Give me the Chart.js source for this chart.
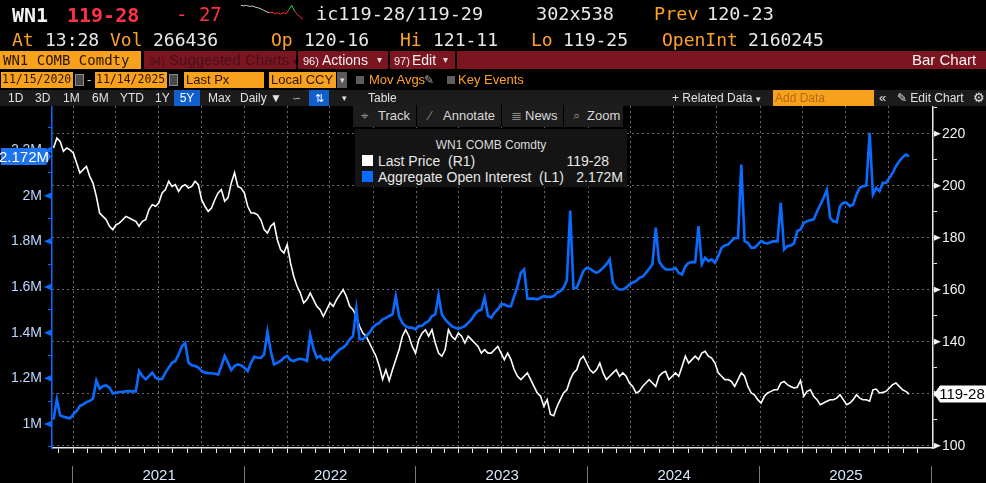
<!DOCTYPE html>
<html>
<head>
<meta charset="utf-8">
<script src="https://cdn.jsdelivr.net/npm/chart.js@4.4.1/dist/chart.umd.min.js"></script>
<style>
  html, body { margin: 0; padding: 0; background: #000; }
  body { width: 986px; height: 483px; position: relative; overflow: hidden;
         font-family: "Liberation Sans", Arial, sans-serif; color: #e6e6e6; }
  .abs { position: absolute; white-space: nowrap; }
  .mono { font-family: "DejaVu Sans Mono", "Liberation Mono", monospace; line-height: 1; }
  .org { color: #ffa128; }
  .wht { color: #e8e8e8; }
  .red { color: #ff3347; }
  .bar { position: absolute; left: 0; width: 986px; }
  .bar .abs { top: 0; }
  .obox { position: absolute; background: #f8a11c; color: #2a1600; }
  #chart { position: absolute; left: 0; top: 0; }
</style>
</head>
<body>

<canvas id="chart" width="986" height="483"></canvas>

<!-- quote header -->
<div class="abs mono" style="left:12px;top:5px;font-size:20px;font-weight:bold;color:#f2f2f2">WN1</div>
<div class="abs mono red" style="left:67px;top:5px;font-size:20px;font-weight:bold">119-28</div>
<div class="abs mono red" style="left:176px;top:5px;font-size:19px">-&nbsp;27</div>
<canvas id="spark" class="abs" width="64" height="26" style="left:240px;top:1px"></canvas>
<div class="abs mono wht" style="left:316px;top:5px;font-size:18.5px">ic119-28/119-29</div>
<div class="abs mono wht" style="left:536px;top:5px;font-size:18.5px">302x538</div>
<div class="abs mono org" style="left:654px;top:5px;font-size:18.5px">Prev</div>
<div class="abs mono wht" style="left:707px;top:5px;font-size:18.5px">120-23</div>

<div class="abs mono org" style="left:12px;top:31px;font-size:18px">At</div>
<div class="abs mono wht" style="left:45px;top:31px;font-size:18px">13:28</div>
<div class="abs mono org" style="left:110px;top:31px;font-size:18px">Vol</div>
<div class="abs mono wht" style="left:153px;top:31px;font-size:18px">266436</div>
<div class="abs mono org" style="left:271px;top:31px;font-size:18px">Op</div>
<div class="abs mono wht" style="left:304px;top:31px;font-size:18px">120-16</div>
<div class="abs mono org" style="left:400px;top:31px;font-size:18px">Hi</div>
<div class="abs mono wht" style="left:433px;top:31px;font-size:18px">121-11</div>
<div class="abs mono org" style="left:531px;top:31px;font-size:18px">Lo</div>
<div class="abs mono wht" style="left:563px;top:31px;font-size:18px">119-25</div>
<div class="abs mono org" style="left:662px;top:31px;font-size:18px">OpenInt</div>
<div class="abs mono wht" style="left:748px;top:31px;font-size:18px">2160245</div>

<!-- red command bar -->
<div class="bar" style="top:51px;height:18px;line-height:18px;background:#7b1520;font-size:15px">
  <div class="obox" style="left:0;top:0;width:141px;height:18px"><span class="mono" style="position:absolute;left:3px;top:2px;font-size:14px">WN1 COMB Comdty</span></div>
  <div class="abs" style="left:141px;width:3px;height:18px;background:#000"></div>
  <div class="abs" style="left:149px;color:#47111a"><span style="font-size:11px">94)</span> Suggested Charts <span style="font-size:10px">&#9662;</span></div>
  <div class="abs" style="left:296px;width:2px;height:18px;background:#000"></div>
  <div class="abs" style="left:303px;color:#f2f2f2"><span style="font-size:11px">96)</span></div>
  <div class="abs" style="left:322px;color:#f2f2f2;font-size:14px">Actions</div>
  <div class="abs" style="left:377px;color:#ddd;font-size:10px">&#9662;</div>
  <div class="abs" style="left:388px;width:2px;height:18px;background:#000"></div>
  <div class="abs" style="left:394px;color:#f2f2f2"><span style="font-size:11px">97)</span></div>
  <div class="abs" style="left:412px;color:#f2f2f2;font-size:14px">Edit</div>
  <div class="abs" style="left:443px;color:#ddd;font-size:10px">&#9662;</div>
  <div class="abs" style="left:455px;width:2px;height:18px;background:#000"></div>
  <div class="abs" style="left:912px;color:#f5f5f5">Bar Chart</div>
</div>

<!-- date / field row -->
<div class="bar" style="top:71px;height:18px;line-height:18px;font-size:13px">
  <div class="obox" style="left:1px;top:1px;width:72px;height:16px;line-height:16px"><span class="mono" style="position:absolute;left:1px;top:2px;font-size:11.5px">11/15/2020</span></div>
  <div class="abs" style="left:75px;top:3px;width:7px;height:10px;background:#4a4a4a;border:1px solid #8a8a8a"></div>
  <div class="abs" style="left:87px;color:#ddd">-</div>
  <div class="obox" style="left:95px;top:1px;width:72px;height:16px;line-height:16px"><span class="mono" style="position:absolute;left:1px;top:2px;font-size:11.5px">11/14/2025</span></div>
  <div class="abs" style="left:169px;top:3px;width:7px;height:10px;background:#4a4a4a;border:1px solid #8a8a8a"></div>
  <div class="obox" style="left:184px;top:1px;width:80px;height:16px;line-height:16px;padding-left:2px;box-sizing:border-box">Last Px</div>
  <div class="obox" style="left:269px;top:1px;width:67px;height:16px;line-height:16px;padding-left:2px;box-sizing:border-box">Local CCY</div>
  <div class="abs" style="left:337px;top:1px;width:10px;height:16px;background:#5a5a5a;color:#ddd;font-size:9px;line-height:16px;text-align:center">&#9662;</div>
  <div class="abs" style="left:356px;top:5px;width:8px;height:8px;background:#5c5c5c"></div>
  <div class="abs org" style="left:369px">Mov Avgs</div>
  <div class="abs" style="left:424px;color:#aaa;font-size:12px">&#9998;</div>
  <div class="abs" style="left:447px;top:5px;width:8px;height:8px;background:#5c5c5c"></div>
  <div class="abs org" style="left:458px">Key Events</div>
</div>

<!-- range toolbar -->
<div class="bar" style="top:90px;height:16px;line-height:16px;background:#1b1b1b;font-size:12px;color:#e2e2e2">
  <div class="abs" style="left:8px">1D</div>
  <div class="abs" style="left:35px">3D</div>
  <div class="abs" style="left:63px">1M</div>
  <div class="abs" style="left:92px">6M</div>
  <div class="abs" style="left:120px">YTD</div>
  <div class="abs" style="left:155px">1Y</div>
  <div class="abs" style="left:174px;width:26px;height:16px;background:#0f5fcf;text-align:center;color:#fff">5Y</div>
  <div class="abs" style="left:208px">Max</div>
  <div class="abs" style="left:240px">Daily &#9660;</div>
  <div class="abs" style="left:292px;color:#bbb;font-size:11px">&#8765;</div>
  <div class="abs" style="left:309px;width:20px;height:16px;background:#0f5fcf;text-align:center;color:#fff;font-size:11px">&#8645;</div>
  <div class="abs" style="left:342px;font-size:9px">&#9662;</div>
  <div class="abs" style="left:368px">Table</div>
  <div class="abs" style="left:672px">+ Related Data <span style="font-size:9px">&#9662;</span></div>
  <div class="obox" style="left:773px;top:0;width:101px;height:16px;color:#b46a10;padding-left:2px;box-sizing:border-box">Add Data</div>
  <div class="abs" style="left:879px;font-size:13px">&#171;</div>
  <div class="abs" style="left:897px">&#9998; Edit Chart</div>
  <div class="abs" style="left:973px;font-size:13px">&#9881;</div>
</div>

<!-- chart toolbar overlay -->
<div class="abs" style="left:353px;top:105px;width:270px;height:22px;background:#1d1d1d;font-size:13px;line-height:22px;color:#d8d8d8">
  <div class="abs" style="left:8px;color:#8a8a8a">&#8982;</div>
  <div class="abs" style="left:25px">Track</div>
  <div class="abs" style="left:63px;width:1px;height:22px;background:#000"></div>
  <div class="abs" style="left:76px;color:#8a8a8a">&#8725;</div>
  <div class="abs" style="left:90px">Annotate</div>
  <div class="abs" style="left:148px;width:1px;height:22px;background:#000"></div>
  <div class="abs" style="left:158px;color:#8a8a8a">&#8803;</div>
  <div class="abs" style="left:172px">News</div>
  <div class="abs" style="left:210px;width:1px;height:22px;background:#000"></div>
  <div class="abs" style="left:220px;color:#8a8a8a">&#8981;</div>
  <div class="abs" style="left:234px">Zoom</div>
</div>

<!-- legend overlay -->
<div class="abs" style="left:355px;top:129px;width:272px;height:58px;background:#141414">
  <div class="abs" style="left:0;width:272px;top:10px;text-align:center;font-size:12px;line-height:12px;color:#dcdcdc">WN1 COMB Comdty</div>
  <div class="abs" style="left:7px;top:26px;width:11px;height:11px;background:#ffffff"></div>
  <div class="abs" style="left:23px;top:25px;font-size:14px;line-height:14px;color:#e8e8e8">Last Price&nbsp;&nbsp;(R1)</div>
  <div id="legPrice" class="abs" style="right:18px;top:25px;font-size:14px;line-height:14px;color:#e8e8e8"></div>
  <div class="abs" style="left:7px;top:42px;width:11px;height:11px;background:#0a6cff"></div>
  <div class="abs" style="left:23px;top:41px;font-size:14px;line-height:14px;color:#e8e8e8">Aggregate Open Interest&nbsp;&nbsp;(L1)</div>
  <div id="legOI" class="abs" style="right:4px;top:41px;font-size:14px;line-height:14px;color:#e8e8e8"></div>
</div>

<script>
// weekly closes (Fridays), 2020-11-20 .. 2025-11-14
const firstClose = [2020, 10, 20];

// WN1 last price (right axis, points)
const lastPrice = [
  214.5, 218.3, 217.0, 213.2, 214.5, 213.8, 212.6, 208.7, 204.9, 206.2,
  207.4, 203.6, 201.0, 195.9, 189.5, 188.2, 186.9, 184.4, 183.1, 185.0,
  185.6, 186.9, 188.2, 187.6, 186.9, 186.3, 184.4, 186.3, 186.9, 190.8,
  192.7, 192.1, 193.4, 197.2, 198.5, 201.7, 199.7, 200.4, 197.8, 199.7,
  200.4, 199.1, 199.7, 201.7, 200.4, 194.6, 192.1, 190.1, 191.4, 194.6,
  197.2, 198.5, 194.0, 195.3, 201.0, 205.0, 199.7, 199.1, 197.2, 192.1,
  189.5, 189.5, 188.8, 186.9, 183.1, 181.8, 184.4, 185.6, 179.2, 175.4,
  174.1, 177.3, 170.3, 165.1, 161.3, 158.7, 154.9, 156.2, 158.7, 156.2,
  153.6, 152.3, 149.7, 152.3, 154.9, 153.6, 156.2, 158.1, 160.0, 157.4,
  153.6, 152.3, 149.7, 145.9, 143.3, 142.1, 139.5, 136.9, 134.4, 130.5,
  125.5, 129.2, 125.0, 129.2, 133.1, 136.9, 142.1, 144.6, 142.1, 138.2,
  135.6, 140.8, 143.3, 144.6, 142.1, 144.6, 139.5, 135.6, 134.4, 136.9,
  144.6, 142.1, 140.8, 143.3, 142.1, 139.5, 142.1, 140.8, 139.5, 138.2,
  135.6, 136.9, 135.6, 135.6, 136.9, 138.2, 135.6, 133.1, 135.6, 133.1,
  129.2, 126.7, 125.4, 126.7, 128.0, 125.4, 122.8, 120.3, 119.0, 115.1,
  117.7, 112.0, 111.5, 115.1, 117.7, 120.3, 121.5, 125.4, 128.0, 129.2,
  133.1, 134.4, 131.8, 129.2, 128.0, 129.2, 131.8, 128.0, 125.4, 126.7,
  128.0, 129.2, 126.7, 128.0, 126.7, 124.1, 122.8, 120.3, 120.9, 122.8,
  124.1, 125.4, 124.1, 122.8, 126.7, 128.0, 128.6, 125.4, 126.7, 128.0,
  126.7, 130.5, 134.4, 131.8, 133.1, 134.4, 133.1, 135.6, 136.3, 134.4,
  133.7, 131.8, 128.0, 126.7, 125.4, 125.4, 124.7, 122.8, 125.4, 128.0,
  126.7, 122.8, 120.3, 119.6, 117.7, 116.4, 119.0, 120.3, 120.9, 121.5,
  121.5, 124.1, 124.7, 123.5, 122.8, 122.2, 122.5, 125.0, 119.0, 120.9,
  121.5, 119.0, 117.7, 115.8, 116.4, 117.1, 117.7, 117.7, 118.3, 119.6,
  117.7, 115.8, 116.4, 117.7, 119.6, 118.3, 117.7, 117.7, 117.1, 121.5,
  121.8, 120.3, 120.5, 120.9, 122.2, 123.5, 124.1, 122.8, 121.5, 120.9,
  119.875
];

// aggregate open interest (left axis, millions of contracts)
const openInterest = [
  1.020, 1.108, 1.038, 1.032, 1.028, 1.025, 1.042, 1.057, 1.079, 1.086,
  1.096, 1.101, 1.111, 1.190, 1.155, 1.166, 1.169, 1.159, 1.134, 1.137,
  1.140, 1.141, 1.143, 1.144, 1.143, 1.143, 1.232, 1.210, 1.195, 1.210,
  1.225, 1.203, 1.195, 1.198, 1.225, 1.247, 1.268, 1.276, 1.305, 1.341,
  1.355, 1.268, 1.257, 1.254, 1.247, 1.232, 1.225, 1.222, 1.222, 1.220,
  1.217, 1.254, 1.298, 1.268, 1.236, 1.254, 1.261, 1.257, 1.247, 1.232,
  1.268, 1.295, 1.290, 1.290, 1.305, 1.405, 1.320, 1.261, 1.268, 1.276,
  1.290, 1.298, 1.280, 1.276, 1.283, 1.286, 1.283, 1.276, 1.390, 1.330,
  1.290, 1.298, 1.280, 1.286, 1.280, 1.298, 1.312, 1.327, 1.334, 1.349,
  1.371, 1.385, 1.505, 1.371, 1.371, 1.385, 1.400, 1.422, 1.436, 1.443,
  1.458, 1.465, 1.473, 1.480, 1.560, 1.473, 1.443, 1.429, 1.422, 1.422,
  1.414, 1.429, 1.429, 1.443, 1.451, 1.473, 1.480, 1.565, 1.480, 1.458,
  1.443, 1.429, 1.422, 1.417, 1.422, 1.429, 1.443, 1.458, 1.480, 1.495,
  1.500, 1.553, 1.473, 1.465, 1.487, 1.502, 1.524, 1.524, 1.516, 1.516,
  1.560, 1.604, 1.662, 1.677, 1.549, 1.549, 1.549, 1.546, 1.553, 1.560,
  1.557, 1.557, 1.560, 1.575, 1.582, 1.597, 1.630, 1.935, 1.595, 1.597,
  1.633, 1.670, 1.684, 1.680, 1.670, 1.662, 1.670, 1.684, 1.699, 1.721,
  1.619, 1.597, 1.589, 1.589, 1.597, 1.611, 1.619, 1.626, 1.640, 1.645,
  1.662, 1.680, 1.700, 1.860, 1.713, 1.691, 1.677, 1.677, 1.677, 1.684,
  1.662, 1.655, 1.691, 1.706, 1.709, 1.709, 1.867, 1.700, 1.728, 1.713,
  1.721, 1.706, 1.735, 1.772, 1.782, 1.786, 1.801, 1.815, 1.815, 2.136,
  1.801, 1.794, 1.772, 1.772, 1.786, 1.801, 1.794, 1.791, 1.797, 1.801,
  1.800, 1.969, 1.764, 1.779, 1.782, 1.791, 1.845, 1.852, 1.881, 1.888,
  1.893, 1.896, 1.930, 1.960, 1.990, 2.025, 1.903, 1.888, 1.884, 1.954,
  1.969, 1.969, 1.954, 1.961, 2.005, 2.034, 2.042, 2.045, 2.275, 2.005,
  2.034, 2.020, 2.056, 2.056, 2.078, 2.100, 2.129, 2.151, 2.168, 2.180,
  2.172
];

const yearLabels = ['2021', '2022', '2023', '2024', '2025'];
const priceTicks = [100, 120, 140, 160, 180, 200, 220];
const oiTicks = [1.0, 1.2, 1.4, 1.6, 1.8, 2.0, 2.2];

// intraday thumbnail next to the quote
const sparkValues = [86, 84, 86, 82, 83, 79, 76, 72, 66, 60, 55, 57, 52, 54, 49, 56, 51, 68, 86, 62, 48, 38, 28];

const UI_FONT = '"Liberation Sans Narrow", "Liberation Sans", Arial, sans-serif';
const OI_BLUE = '#0a6cff';
const GRID = '#6a6a6a';

const DAY = 86400000;
const ORIGIN = Date.UTC(2021, 0, 1);
const dayOf = (y, m, d) => (Date.UTC(y, m, d) - ORIGIN) / DAY;
const start = dayOf(...firstClose);
const weekX = lastPrice.map((_, i) => start + 7 * i);

const X_MIN = -45.3, X_MAX = 1828.8;

const monthTicks = [], quarterTicks = [];
for (let y = 2020; y <= 2025; y++) {
  for (let m = 0; m < 12; m++) {
    const d = dayOf(y, m, 1);
    if (d <= X_MIN || d >= X_MAX) continue;
    monthTicks.push(d);
    if (m % 3 === 0) quarterTicks.push(d);
  }
}
const yearStarts = [2021, 2022, 2023, 2024, 2025, 2026].map(y => dayOf(y, 0, 1));

const isOiTick = v => oiTicks.some(t => Math.abs(t - v) < 1e-6);
const fmtM = v => (Math.round(v * 1000) / 1000) + 'M';
const fmt32 = v => {
  const whole = Math.floor(v);
  const n = Math.round((v - whole) * 32);
  return whole + '-' + String(n).padStart(2, '0');
};

const lastOI = openInterest[openInterest.length - 1];
const lastPx = lastPrice[lastPrice.length - 1];
document.getElementById('legPrice').textContent = fmt32(lastPx);
document.getElementById('legOI').textContent = fmtM(lastOI);

Chart.defaults.font.family = UI_FONT;

// axis flags, year band and last-value badges
const decorations = {
  id: 'decorations',
  afterDraw(chart) {
    const { ctx, chartArea: area } = chart;
    const { x, yL, yR } = chart.scales;
    ctx.save();

    ctx.fillStyle = OI_BLUE;
    oiTicks.forEach(v => {
      const y = yL.getPixelForValue(v);
      ctx.beginPath();
      ctx.moveTo(area.left, y - 3.5);
      ctx.lineTo(area.left - 8, y);
      ctx.lineTo(area.left, y + 3.5);
      ctx.closePath();
      ctx.fill();
    });

    ctx.fillStyle = '#f0f0f0';
    priceTicks.forEach(v => {
      const y = yR.getPixelForValue(v);
      ctx.beginPath();
      ctx.moveTo(area.right + 1, y - 3);
      ctx.lineTo(area.right + 8, y);
      ctx.lineTo(area.right + 1, y + 3);
      ctx.closePath();
      ctx.fill();
    });

    ctx.strokeStyle = '#7a7a7a';
    ctx.lineWidth = 1;
    yearStarts.forEach(d => {
      const px = Math.round(x.getPixelForValue(d)) - 0.5;
      ctx.beginPath();
      ctx.moveTo(px, area.bottom + 18);
      ctx.lineTo(px, chart.height);
      ctx.stroke();
    });
    ctx.fillStyle = '#d6e4fa';
    ctx.font = '15px ' + UI_FONT;
    ctx.textAlign = 'center';
    ctx.textBaseline = 'alphabetic';
    yearLabels.forEach((lbl, i) => {
      const mid = (yearStarts[i] + yearStarts[i + 1]) / 2;
      ctx.fillText(lbl, x.getPixelForValue(mid), 480);
    });

    // left badge (open interest)
    const yo = yL.getPixelForValue(lastOI);
    ctx.fillStyle = '#1f74ee';
    ctx.beginPath();
    ctx.moveTo(1, yo - 8.5);
    ctx.lineTo(46, yo - 8.5);
    ctx.lineTo(51, yo);
    ctx.lineTo(46, yo + 8.5);
    ctx.lineTo(1, yo + 8.5);
    ctx.closePath();
    ctx.fill();
    ctx.fillStyle = '#ffffff';
    ctx.textBaseline = 'middle';
    ctx.fillText(fmtM(lastOI), 24, yo + 1);

    // right badge (price)
    const yp = yR.getPixelForValue(lastPx);
    ctx.fillStyle = '#ffffff';
    ctx.beginPath();
    ctx.moveTo(area.right + 1, yp);
    ctx.lineTo(area.right + 7, yp - 8.5);
    ctx.lineTo(986, yp - 8.5);
    ctx.lineTo(986, yp + 8.5);
    ctx.lineTo(area.right + 7, yp + 8.5);
    ctx.closePath();
    ctx.fill();
    ctx.fillStyle = '#000000';
    ctx.fillText(fmt32(lastPx), 962, yp + 1);

    ctx.restore();
  }
};

new Chart(document.getElementById('chart'), {
  type: 'line',
  data: {
    datasets: [
      {
        label: 'Aggregate Open Interest (L1)',
        data: openInterest.map((v, i) => ({ x: weekX[i], y: v })),
        yAxisID: 'yL',
        borderColor: OI_BLUE,
        borderWidth: 2.6,
        pointRadius: 0,
        tension: 0
      },
      {
        label: 'Last Price (R1)',
        data: lastPrice.map((v, i) => ({ x: weekX[i], y: v })),
        yAxisID: 'yR',
        borderColor: '#ffffff',
        borderWidth: 1.6,
        pointRadius: 0,
        tension: 0
      }
    ]
  },
  options: {
    responsive: false,
    animation: false,
    layout: { padding: { top: 106, left: 0, right: 0, bottom: 0 } },
    plugins: { legend: { display: false }, tooltip: { enabled: false } },
    scales: {
      x: {
        type: 'linear',
        min: X_MIN,
        max: X_MAX,
        afterBuildTicks: s => { s.ticks = monthTicks.map(v => ({ value: v })); },
        afterFit: s => { s.height = 35; },
        ticks: { display: false },
        grid: {
          color: c => (c.tick && quarterTicks.includes(c.tick.value)) ? GRID : 'rgba(0,0,0,0)',
          tickColor: '#e8e8e8',
          tickLength: 5,
          lineWidth: 1
        },
        border: { color: '#e8e8e8', width: 1.5, dash: [2, 3] }
      },
      yL: {
        position: 'left',
        min: 0.8949,
        max: 2.3929,
        afterFit: s => { s.width = 52; },
        ticks: {
          stepSize: 0.1,
          includeBounds: false,
          autoSkip: false,
          color: '#bcd6ff',
          font: { size: 14 },
          padding: 6,
          callback: v => isOiTick(v) ? fmtM(v) : ''
        },
        grid: { drawOnChartArea: false, tickColor: OI_BLUE, tickLength: 4 },
        border: { color: OI_BLUE, width: 1.5 }
      },
      yR: {
        position: 'right',
        min: 99.115,
        max: 230.65,
        afterFit: s => { s.width = 53; },
        ticks: {
          stepSize: 10,
          includeBounds: false,
          autoSkip: false,
          color: '#f0f0f0',
          font: { size: 14 },
          padding: 5,
          callback: v => priceTicks.includes(v) ? String(v) : ''
        },
        grid: {
          color: c => (c.tick && priceTicks.includes(c.tick.value)) ? GRID : 'rgba(0,0,0,0)',
          tickColor: '#e8e8e8',
          tickLength: 4
        },
        border: { color: '#e8e8e8', width: 1.5, dash: [2, 3] }
      }
    }
  },
  plugins: [decorations]
});

// quote thumbnail
const sparkColor = i => i < 10 ? '#cfcfcf' : (i >= 17 && i < 19 ? '#2fdc6a' : '#ff2a3a');
new Chart(document.getElementById('spark'), {
  type: 'line',
  data: {
    labels: sparkValues.map((_, i) => i),
    datasets: [{
      data: sparkValues,
      borderWidth: 1,
      pointRadius: 0,
      segment: { borderColor: c => sparkColor(c.p0DataIndex) }
    }]
  },
  options: {
    responsive: false,
    animation: false,
    layout: { padding: 1 },
    plugins: { legend: { display: false }, tooltip: { enabled: false } },
    scales: { x: { display: false }, y: { display: false } }
  }
});
</script>
</body>
</html>
